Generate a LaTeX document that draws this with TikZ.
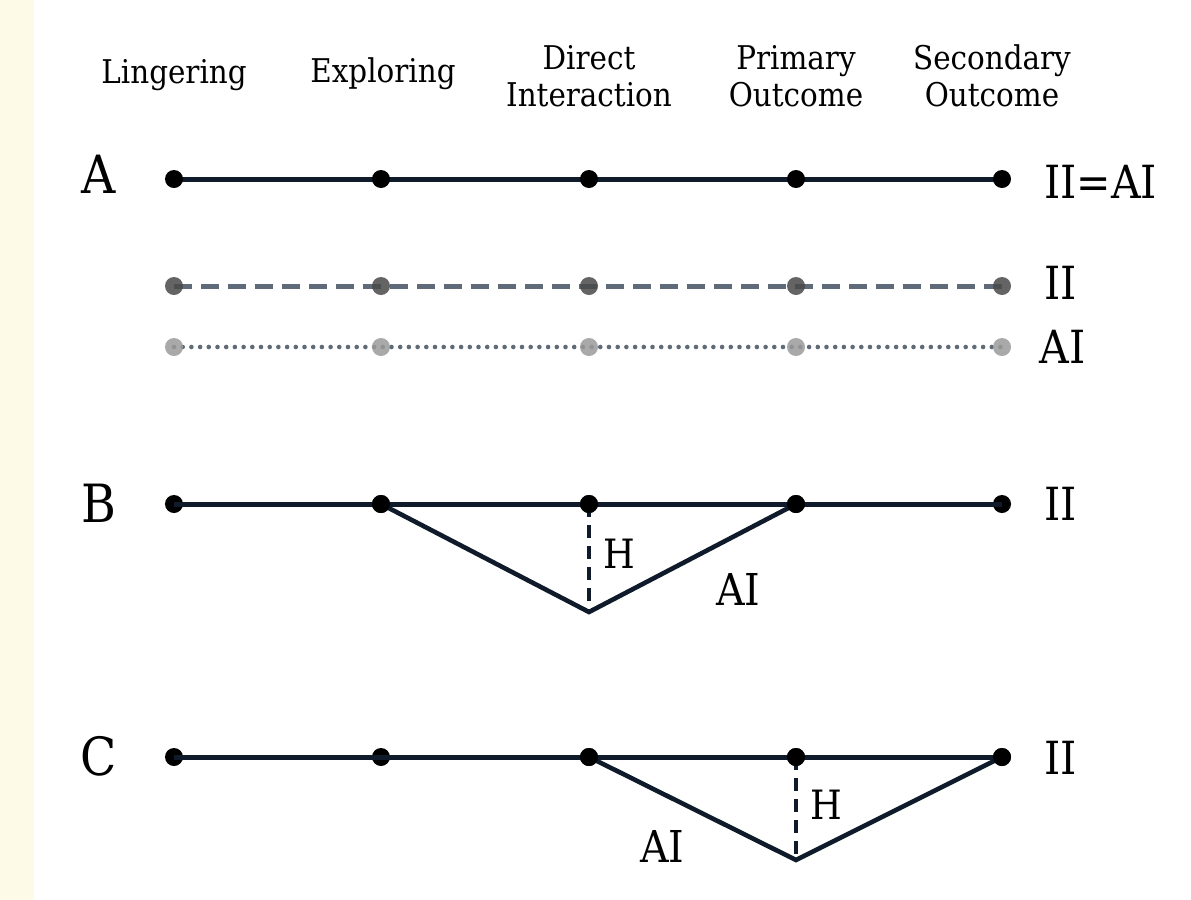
\documentclass[tikz,border=0pt]{standalone}
\usepackage{fontspec}
\setmainfont{DejaVu Serif Condensed}
\definecolor{strip}{HTML}{FEFAE8}
\definecolor{ink}{HTML}{0F1B2A}
\definecolor{slate}{HTML}{5F6B78}
\definecolor{dotdark}{HTML}{4A4A4A}
\definecolor{dotlight}{HTML}{9A9A9A}
\newlength{\px}
\setlength{\px}{0.02cm}
\tikzset{
  dot/.style={circle, fill=black, inner sep=0pt, minimum size=18\px},
  dotmid/.style={circle, fill=dotdark, fill opacity=0.85, inner sep=0pt, minimum size=18\px},
  dotpale/.style={circle, fill=dotlight, fill opacity=0.85, inner sep=0pt, minimum size=18\px},
  track/.style={draw=ink, line width=5\px},
  legsolid/.style={draw=ink, line width=4.6\px, line join=miter},
  legdash/.style={draw=slate, line width=5\px, dash pattern=on 18\px off 9\px},
  legdot/.style={draw=slate, line width=4.6\px, line cap=round, dash pattern=on 0pt off 8.7\px},
  drop/.style={draw=ink, line width=4.4\px, dash pattern=on 13\px off 8\px},
  head/.style={font=\fontsize{18.6}{21}\selectfont, align=center, inner sep=0pt},
  rowlbl/.style={font=\fontsize{30}{36}\selectfont, inner sep=0pt, anchor=base},
  sidelbl/.style={font=\fontsize{26}{32}\selectfont, inner sep=0pt, anchor=base west},
  hlbl/.style={font=\fontsize{23}{28}\selectfont, inner sep=0pt, anchor=base west},
  ailbl/.style={font=\fontsize{25}{30}\selectfont, inner sep=0pt, anchor=base west},
}
\begin{document}
\begin{tikzpicture}[x=0.02cm, y=-0.02cm]
\useasboundingbox (0,0) rectangle (1191,900);
\fill[white] (0,0) rectangle (1191,900);
\fill[strip] (0,0) rectangle (34,900);

% column headings (base anchor sits on the last line)
\node[head, anchor=base] (h1) at (174,83) {Lingering};
\node[head, anchor=base] (h2) at (383,82) {Exploring};
\node[head, anchor=base] (h3) at (589,106) {Direct\\Interaction};
\node[head, anchor=base] (h4) at (796,106) {Primary\\Outcome};
\node[head, anchor=base] (h5) at (992,106) {Secondary\\Outcome};

% row A: identical paths
\foreach \i/\x in {1/174,2/381,3/589,4/796,5/1002}{
  \coordinate (ap\i) at (\x,179);
  \coordinate (ip\i) at (\x,286);
  \coordinate (qp\i) at (\x,347);
}
\draw[track] (ap1) -- (ap2) -- (ap3) -- (ap4) -- (ap5);
\draw[legdash] (ip1) -- (ip5);
\draw[legdot] (qp1) -- (qp5);
\foreach \i in {1,...,5}{
  \node[dot] (a\i) at (ap\i) {};
  \node[dotmid] (i\i) at (ip\i) {};
  \node[dotpale] (q\i) at (qp\i) {};
}
\node[rowlbl] (la) at (99,193) {A};
\node[sidelbl] (ra) at (1044,198) {II=AI};
\node[sidelbl] (ri) at (1044,299) {II};
\node[sidelbl] (rq) at (1039,363) {AI};

% row B: AI path dips at direct interaction
\foreach \i/\x in {1/174,2/381,3/589,4/796,5/1002}{
  \node[dot] (b\i) at (\x,504) {};
}
\coordinate (bv) at (589,612);
\draw[track] (b1.center) -- (b2.center) -- (b3.center) -- (b4.center) -- (b5.center);
\draw[legsolid] (b2.center) -- (bv) -- (b4.center);
\draw[drop] (b3.center) -- (bv);
\foreach \i in {2,3,4}{ \node[dot] at (b\i) {}; }
\node[rowlbl] (lb) at (99,522) {B};
\node[sidelbl] (rb) at (1044,520) {II};
\node[hlbl] (hb) at (603,568) {H};
\node[ailbl] (aib) at (716,605) {AI};

% row C: AI path dips at primary outcome
\foreach \i/\x in {1/174,2/381,3/589,4/796,5/1002}{
  \node[dot] (c\i) at (\x,757) {};
}
\coordinate (cv) at (796,860);
\draw[track] (c1.center) -- (c2.center) -- (c3.center) -- (c4.center) -- (c5.center);
\draw[legsolid] (c3.center) -- (cv) -- (c5.center);
\draw[drop] (c4.center) -- (cv);
\foreach \i in {3,4,5}{ \node[dot] at (c\i) {}; }
\node[rowlbl] (lc) at (99,775) {C};
\node[sidelbl] (rc) at (1044,774) {II};
\node[hlbl] (hc) at (810,819) {H};
\node[ailbl] (aic) at (640,862) {AI};
\end{tikzpicture}
\end{document}
